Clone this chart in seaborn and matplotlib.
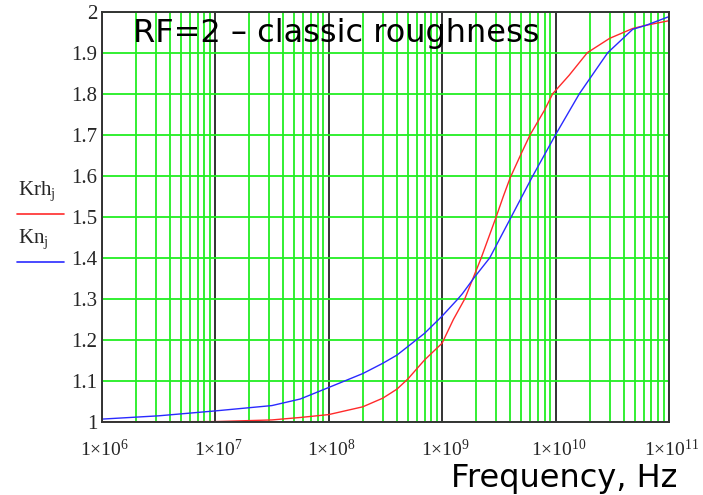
import numpy as np
import pandas as pd
import matplotlib
matplotlib.use('Agg')
import matplotlib.pyplot as plt
import matplotlib.transforms as mtrans
import seaborn as sns
from matplotlib.ticker import LogLocator, FixedLocator, FuncFormatter
from matplotlib.lines import Line2D

# curves: log10(frequency, Hz) and roughness factor
lgf_krh = [6.0, 7.0, 7.5, 7.75, 8.0, 8.301, 8.477, 8.602, 8.699, 8.845, 9.0, 9.1, 9.2,
           9.345, 9.477, 9.54, 9.60, 9.699, 9.776, 9.903, 9.975, 10.12, 10.28, 10.477, 10.68, 10.8, 11.0]
krh = [1.000, 1.001, 1.005, 1.011, 1.018, 1.037, 1.058, 1.080, 1.105, 1.151, 1.192, 1.25, 1.30,
       1.40, 1.50, 1.55, 1.595, 1.655, 1.70, 1.76, 1.80, 1.845, 1.90, 1.935, 1.959, 1.967, 1.978]

lgf_kn = [6.0, 6.5, 7.0, 7.5, 7.75, 8.0, 8.301, 8.477, 8.602, 8.699, 8.845, 9.0, 9.14, 9.18,
          9.286, 9.42, 9.61, 9.80, 10.0, 10.21, 10.46, 10.68, 10.8, 11.0]
kn = [1.007, 1.015, 1.027, 1.040, 1.056, 1.084, 1.118, 1.143, 1.163, 1.184, 1.216, 1.258, 1.30, 1.313,
      1.353, 1.40, 1.50, 1.60, 1.70, 1.80, 1.90, 1.957, 1.967, 1.988]

xticks_exp = [6, 7, 8, 9, 10, 11]
yticks = [1.0, 1.1, 1.2, 1.3, 1.4, 1.5, 1.6, 1.7, 1.8, 1.9, 2.0]

df = pd.concat([
    pd.DataFrame({'f': 10.0 ** np.array(lgf_krh), 'K': krh, 'curve': 'Krh'}),
    pd.DataFrame({'f': 10.0 ** np.array(lgf_kn), 'K': kn, 'curve': 'Kn'}),
])

sns.set_theme(style='white')
plt.rcParams['font.family'] = ['DejaVu Sans']
plt.rcParams['mathtext.fontset'] = 'custom'
plt.rcParams['mathtext.rm'] = 'Liberation Serif'
plt.rcParams['mathtext.it'] = 'Liberation Serif:italic'

green = '#22ee22'
red = '#ff2a2a'
blue = '#2a2aff'

fig = plt.figure(figsize=(7.03, 4.95), dpi=100)
ax = fig.add_axes([0.1447, 0.1475, 0.8069, 0.8289])

sns.lineplot(data=df, x='f', y='K', hue='curve', palette={'Krh': red, 'Kn': blue},
             estimator=None, legend=False, lw=1.0, ax=ax)

ax.set_xscale('log')
ax.set_xlim(1e6, 1e11)
ax.set_ylim(1, 2)
ax.xaxis.set_major_locator(FixedLocator([10.0 ** e for e in xticks_exp]))
ax.xaxis.set_major_formatter(FuncFormatter(
    lambda v, p: r'$\mathrm{1{\times}10^{%d}}$' % int(round(np.log10(v)))))
ax.xaxis.set_minor_locator(LogLocator(base=10, subs=range(2, 10), numticks=50))
ax.xaxis.set_minor_formatter(FuncFormatter(lambda v, p: ''))
ax.set_yticks(yticks)
ax.set_yticklabels(['%g' % v for v in yticks], family='Liberation Serif', fontsize=15)

ax.grid(which='minor', axis='x', color=green, lw=1.3)
ax.grid(which='major', axis='x', color='#333333', lw=1.4)
ax.grid(which='major', axis='y', color=green, lw=1.3)
ax.set_axisbelow(True)
ax.tick_params(axis='both', which='both', length=0)
ax.tick_params(axis='x', pad=12, labelsize=14)
ax.tick_params(axis='y', pad=3)
# Mathcad puts the exponent labels a little right of the tick
shift = mtrans.ScaledTranslation(3 / 100, 0, fig.dpi_scale_trans)
for lbl in ax.get_xticklabels():
    lbl.set_transform(lbl.get_transform() + shift)
for s in ax.spines.values():
    s.set_color('#333333')
    s.set_linewidth(1.4)
ax.set_xlabel('')
ax.set_ylabel('')

W, H = 703.0, 495.0
fig.text(133 / W, 1 - 42 / H, 'RF=2 \u2013 classic roughness', fontsize=23,
         va='baseline', ha='left', color='black')
fig.text(451 / W, 1 - 487 / H, 'Frequency, Hz', fontsize=23,
         va='baseline', ha='left', color='black')

# legend on the left, Mathcad style
fig.text(18 / W, 1 - 195 / H, r'$\mathrm{Krh}_{\mathrm{j}}$', fontsize=15, va='baseline')
fig.add_artist(Line2D([17 / W, 64 / W], [1 - 213.5 / H] * 2, color=red, lw=1.2))
fig.text(18 / W, 1 - 243 / H, r'$\mathrm{Kn}_{\mathrm{j}}$', fontsize=15, va='baseline')
fig.add_artist(Line2D([17 / W, 64 / W], [1 - 262 / H] * 2, color=blue, lw=1.2))

fig.savefig('out.png', dpi=100, facecolor='white')
